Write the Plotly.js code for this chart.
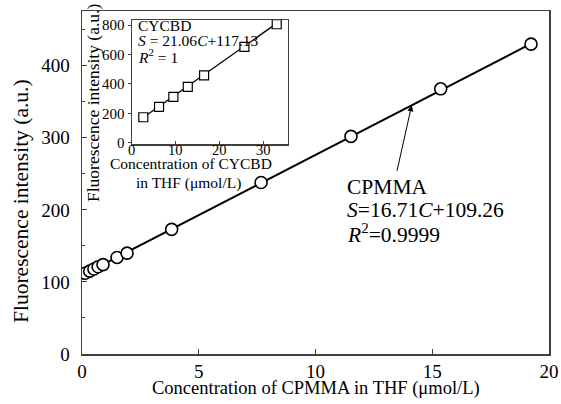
<!DOCTYPE html>
<html>
<head>
<meta charset="utf-8">
<script src="https://cdn.plot.ly/plotly-3.0.1.min.js"></script>
<style>html,body{margin:0;padding:0;background:#fff;}#chart{width:561px;height:404px;}</style>
</head>
<body>
<div id="chart"></div>
<script>
// CPMMA main data
var cpmmaConc = [0.13, 0.33, 0.51, 0.69, 0.9, 1.5, 1.93, 3.84, 7.67, 11.52, 15.36, 19.23];
var cpmmaIntensity = [112, 115, 118, 121, 124, 134, 140, 173, 238, 302, 368, 430];
var cpmmaSlope = 16.71, cpmmaIntercept = 109.26;

// CYCBD inset data
var cycbdConc = [2.64, 6.22, 9.48, 12.76, 16.47, 25.65, 33.0];
var cycbdIntensity = [174, 245, 313, 380, 458, 652, 806];
var cycbdSlope = 21.06, cycbdIntercept = 117.13;

var mainTicks = [0, 5, 10, 15, 20];
var mainYTicks = [0, 100, 200, 300, 400];
var insetXTicks = [0, 10, 20, 30];
var insetYTicks = [0, 200, 400, 600, 800];

var fitX1 = [0, cpmmaConc[cpmmaConc.length - 1]];
var fitY1 = fitX1.map(function (c) { return cpmmaSlope * c + cpmmaIntercept; });
var fitX2 = [cycbdConc[0], cycbdConc[cycbdConc.length - 1]];
var fitY2 = fitX2.map(function (c) { return cycbdSlope * c + cycbdIntercept; });

var FONT = 'Liberation Serif, Times New Roman, serif';
var AX = '#404040';

// pixel -> paper helpers (plot area: x 82..549, y 11..354)
function px(x) { return (x - 82) / 467; }
function py(y) { return (354 - y) / 343; }

var traces = [
  {x: fitX1, y: fitY1, mode: 'lines', line: {color: '#000', width: 2}, xaxis: 'x', yaxis: 'y', hoverinfo: 'skip'},
  {x: cpmmaConc, y: cpmmaIntensity, mode: 'markers', xaxis: 'x', yaxis: 'y',
   marker: {symbol: 'circle', size: 12, color: '#fff', line: {color: '#000', width: 1.6}}},
  {x: fitX2, y: fitY2, mode: 'lines', line: {color: '#000', width: 1.3}, xaxis: 'x2', yaxis: 'y2', hoverinfo: 'skip'},
  {x: cycbdConc, y: cycbdIntensity, mode: 'markers', xaxis: 'x2', yaxis: 'y2',
   marker: {symbol: 'square', size: 9, color: '#fff', line: {color: '#000', width: 1.2}}}
];

function txt(x, y, t, size, extra) {
  var a = {xref: 'paper', yref: 'paper', x: px(x), y: py(y), xanchor: 'left', yanchor: 'middle',
           showarrow: false, text: t, font: {size: size, family: FONT, color: '#000'}};
  if (extra) for (var k in extra) a[k] = extra[k];
  return a;
}

var annotations = [
  // main axis titles
  txt(316, 388, 'Concentration of CPMMA in THF (μmol/L)', 18.5, {xanchor: 'center'}),
  txt(21, 201, 'Fluorescence intensity (a.u.)', 21.5, {xanchor: 'center', textangle: -90}),
  // inset axis titles
  txt(191, 164, 'Concentration of CYCBD', 15.5, {xanchor: 'center'}),
  txt(188, 183, 'in THF (μmol/L)', 15.5, {xanchor: 'center'}),
  txt(93, 103, 'Fluorescence intensity (a.u.)', 17.5, {xanchor: 'center', textangle: -90}),
  // main equation
  txt(345, 187, 'CPMMA', 21.5),
  txt(345, 210, '<i>S</i>=16.71<i>C</i>+109.26', 21.5),
  txt(345, 233, '<i>R</i><sup>2</sup>=0.9999', 21.5),
  {xref: 'x', yref: 'y', x: 14.12, y: cpmmaSlope * 14.12 + cpmmaIntercept, ax: -15, ay: 67,
   showarrow: true, text: '', arrowhead: 2, arrowsize: 1.2, arrowwidth: 1, arrowcolor: '#000'},
  // inset equation
  txt(136, 25, 'CYCBD', 15.5),
  txt(136, 41, '<i>S</i> = 21.06<i>C</i>+117.13', 15.5),
  txt(136, 56, '<i>R</i><sup>2</sup> = 1', 15.5)
];
// inset x tick labels (placed tight under the inset axis, as in the reference)
insetXTicks.forEach(function (v) {
  annotations.push({xref: 'x2', yref: 'paper', x: v, y: py(150), xanchor: 'center', yanchor: 'middle',
    showarrow: false, text: String(v), font: {size: 14.5, family: FONT, color: '#000'}});
});

var layout = {
  width: 561, height: 404,
  margin: {l: 82, r: 12, t: 11, b: 50},
  paper_bgcolor: '#fff', plot_bgcolor: 'rgba(0,0,0,0)',
  showlegend: false,
  font: {family: FONT, color: '#000'},
  xaxis: {
    domain: [0, 1], range: [0, 20], tickvals: mainTicks, ticks: 'inside', ticklen: 5, tickcolor: AX,
    showline: true, linecolor: AX, linewidth: 1.5, mirror: true, showgrid: false, zeroline: false,
    tickfont: {size: 19, family: FONT}
  },
  yaxis: {
    domain: [0, 1], range: [0, 476], tickvals: mainYTicks, ticks: 'inside', ticklen: 5, tickcolor: AX,
    minor: {dtick: 50, tick0: 0, ticks: 'inside', ticklen: 3, tickcolor: AX},
    showline: true, linecolor: AX, linewidth: 1.5, mirror: true, showgrid: false, zeroline: false,
    tickfont: {size: 19, family: FONT}, ticklabelstandoff: 7
  },
  xaxis2: {
    domain: [px(131.7), px(287.7)], anchor: 'y2', range: [0, 35.5], tickvals: insetXTicks,
    ticks: 'inside', ticklen: 3, tickcolor: AX, showline: true, linecolor: AX, linewidth: 1.2, mirror: true,
    showgrid: false, zeroline: false, showticklabels: false
  },
  yaxis2: {
    domain: [py(144.3), py(20)], anchor: 'x2', range: [-10, 835], tickvals: insetYTicks,
    ticks: 'outside', ticklen: 3, tickcolor: AX, showline: true, linecolor: AX, linewidth: 1.2, mirror: true,
    showgrid: false, zeroline: false, tickfont: {size: 15, family: FONT}
  },
  annotations: annotations
};

Plotly.newPlot('chart', traces, layout, {displayModeBar: false, staticPlot: true});
</script>
</body>
</html>
